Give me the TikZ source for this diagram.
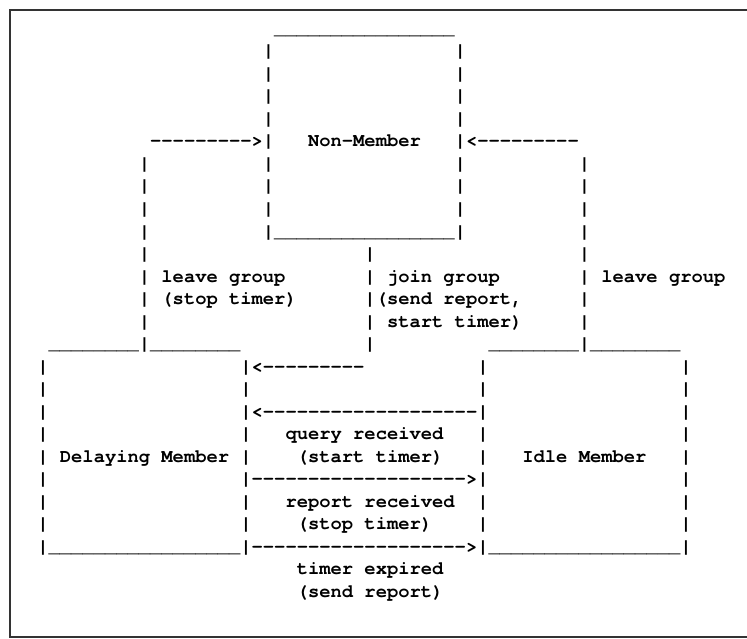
\documentclass[tikz,border=0pt]{standalone}
\usepackage{fontspec}
\newfontfamily\asciifont{TeX Gyre Cursor}

\ExplSyntaxOn
\cs_new:Npn \asciirep #1#2 { \prg_replicate:nn {#1} {#2} }
\ExplSyntaxOff

% one text cell of the character grid: name, column, row, text
\newcommand\cel[4]{\node[ascii] (#1) at ({37.36+11.28*(#2)},{-34.5-22.5*(#3)}) {#4};}

\begin{document}
\begin{tikzpicture}[x=1pt,y=1pt,
  ascii/.style={anchor=base west, inner sep=0pt, outer sep=0pt,
    font=\asciifont\bfseries\fontsize{18.8pt}{22.5pt}\selectfont},
  frame/.style={draw=black!80, line width=1.8pt}]
\useasboundingbox (0,0) rectangle (747,-639);

% outer frame
\draw[frame] (748,-10) -- (9.6,-10) -- (9.6,-637) -- (748,-637);

% Non-Member box
\cel{nmTop}{21}{0}{\asciirep{16}{\_}}
\foreach \r in {1,...,4} {
  \cel{nmL\r}{20}{\r}{|}
  \cel{nmR\r}{37}{\r}{|}
}
\cel{inL}{10}{5}{\asciirep{9}{-}>|}
\cel{nmLabel}{24}{5}{Non-Member}
\cel{inR}{37}{5}{|<\asciirep{9}{-}}
\foreach \r in {6,7,8} {
  \cel{lv\r}{9}{\r}{|}
  \cel{nmL\r}{20}{\r}{|}
  \cel{nmR\r}{37}{\r}{|}
  \cel{rv\r}{48}{\r}{|}
}
\cel{lv9}{9}{9}{|}
\cel{nmBot}{20}{9}{|\asciirep{16}{\_}|}
\cel{rv9}{48}{9}{|}

% transitions leaving / entering Non-Member
\foreach \r in {10,...,13} {
  \cel{lv\r}{9}{\r}{|}
  \cel{rv\r}{48}{\r}{|}
}
\cel{mv10}{29}{10}{|}
\cel{mv11}{29}{11}{|}
\cel{mv13}{29}{13}{|}
\cel{lvLabA}{11}{11}{leave group}
\cel{mvLabA}{31}{11}{join group}
\cel{rvLab}{50}{11}{leave group}
\cel{lvLabB}{11}{12}{(stop timer)}
\cel{mvLabB}{29}{12}{|(send report,}
\cel{mvLabC}{31}{13}{start timer)}

% tops of the two member boxes
\cel{dmTop}{1}{14}{\asciirep{8}{\_}|\asciirep{8}{\_}}
\cel{mv14}{29}{14}{|}
\cel{imTop}{40}{14}{\asciirep{8}{\_}|\asciirep{8}{\_}}

% walls of Delaying Member and Idle Member
\foreach \r in {15,...,22} {
  \cel{dmL\r}{0}{\r}{|}
  \cel{imR\r}{57}{\r}{|}
}
\foreach \r in {16,18,19,21,22} {
  \cel{dmR\r}{18}{\r}{|}
  \cel{imL\r}{39}{\r}{|}
}
\cel{joinIn}{18}{15}{|<\asciirep{9}{-}}
\cel{imL15}{39}{15}{|}
\cel{queryArr}{18}{17}{|<\asciirep{19}{-}|}
\cel{queryLab}{22}{18}{query received}
\cel{dmLabel}{2}{19}{Delaying Member}
\cel{queryLabB}{23}{19}{(start timer)}
\cel{imLabel}{43}{19}{Idle Member}
\cel{reportArr}{18}{20}{|\asciirep{19}{-}>|}
\cel{reportLab}{22}{21}{report received}
\cel{reportLabB}{23}{22}{(stop timer)}
\cel{boxBottoms}{0}{23}{|\asciirep{17}{\_}|\asciirep{19}{-}>|\asciirep{17}{\_}|}
\cel{timerLab}{23}{24}{timer expired}
\cel{timerLabB}{23}{25}{(send report)}
\end{tikzpicture}
\end{document}
